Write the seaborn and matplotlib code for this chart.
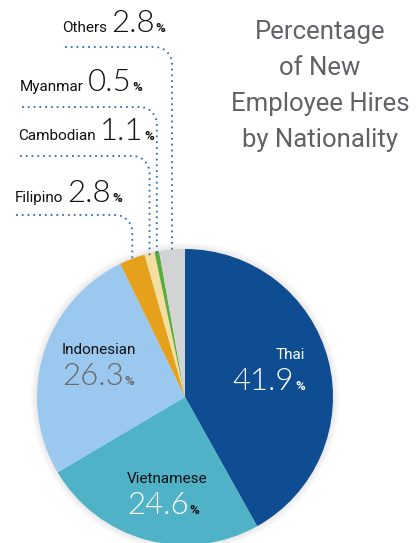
import numpy as np
import seaborn as sns
import matplotlib.pyplot as plt
from matplotlib.patches import Circle

# Data
nationalities = ['Thai', 'Vietnamese', 'Indonesian', 'Filipino', 'Cambodian', 'Myanmar', 'Others']
shares = [41.9, 24.6, 26.3, 2.8, 1.1, 0.5, 2.8]
colors = ['#0f4d92', '#4fb2c7', '#9ac8ee', '#e5a11c', '#f4dfa1', '#5aac3d', '#d2d3d5']

sns.set_theme(style='white')
LABEL_FONT = ['Roboto', 'DejaVu Sans']
NUM_FONT = ['Lato', 'DejaVu Sans']

W, H = 419, 543
fig = plt.figure(figsize=(W / 100, H / 100), dpi=100)
ax = fig.add_axes([0, 0, 1, 1])

cx, cy, R = 185, H - 397, 148

# soft shadow round the pie
for i in range(7):
    ax.add_patch(Circle((cx, cy), R + 1 + i, color='#000000', alpha=0.013, lw=0, zorder=0))

wedges, _ = ax.pie(shares, colors=sns.color_palette(colors), startangle=90, counterclock=False,
                   center=(cx, cy), radius=R, wedgeprops=dict(linewidth=0))
for w in wedges:
    w.set_zorder(2)

ax.set_xlim(0, W)
ax.set_ylim(0, H)
ax.set_aspect('equal')
ax.axis('off')

renderer = fig.canvas.get_renderer()

LBL, NUM, PCT = 11, 22.5, 9.5
lbl_kw = dict(fontsize=LBL, family=LABEL_FONT, va='baseline')
num_kw = dict(fontsize=NUM, family=NUM_FONT, weight=300, va='baseline')
pct_kw = dict(fontsize=PCT, family=LABEL_FONT, weight='bold', va='baseline')


def put_value(x, y, label, value, label_color, num_color, pct_color, inline=True, align='left', gap=4, dy=31):
    # label + big number + small percent sign, y is baseline in pixels from top
    num = f'{value:.1f}'
    if inline:
        t = ax.text(x, H - y, label, color=label_color, **lbl_kw)
        bb = t.get_window_extent(renderer)
        t2 = ax.text(bb.x1 + gap, H - y, num, color=num_color, **num_kw)
        bb2 = t2.get_window_extent(renderer)
        ax.text(bb2.x1 + 1, H - y, '%', color=pct_color, **pct_kw)
    elif align == 'left':
        ax.text(x, H - y, label, color=label_color, **lbl_kw)
        t2 = ax.text(x, H - y - dy, num, color=num_color, **num_kw)
        bb2 = t2.get_window_extent(renderer)
        ax.text(bb2.x1 + 1, H - y - dy, '%', color=pct_color, **pct_kw)
    else:
        ax.text(x, H - y, label, color=label_color, ha='right', **lbl_kw)
        t3 = ax.text(x, H - y - dy, '%', color=pct_color, ha='right', **pct_kw)
        bb3 = t3.get_window_extent(renderer)
        ax.text(bb3.x0 - 1, H - y - dy, num, color=num_color, ha='right', **num_kw)


val = dict(zip(nationalities, shares))
dark = '#111116'

# inside labels
put_value(305, 359, 'Thai', val['Thai'], 'white', 'white', 'white', inline=False, align='right')
put_value(127, 483, 'Vietnamese', val['Vietnamese'], dark, 'white', dark, inline=False)
put_value(62, 354, 'Indonesian', val['Indonesian'], dark, '#68686a', '#68686a', inline=False)

# outside labels with dotted leaders
outside = [('Others', 62, 32, 47, 65), ('Myanmar', 20, 91, 107, 22),
           ('Cambodian', 18, 140, 156, 20), ('Filipino', 15, 202, 215, 16)]
for name, lx, ly, line_y, line_x0 in outside:
    put_value(lx, ly, name, val[name], dark, dark, dark)
    w = wedges[nationalities.index(name)]
    mid = np.deg2rad((w.theta1 + w.theta2) / 2)
    vx = cx + R * np.cos(mid)
    vy_end = cy + R * np.sin(mid) - 2
    rad = 17
    arc = np.linspace(np.pi / 2, 0, 12)
    ax_x = (vx - rad) + rad * np.cos(arc)
    ax_y = (H - line_y - rad) + rad * np.sin(arc)
    xs = np.concatenate([[line_x0], ax_x, [vx]])
    ys = np.concatenate([[H - line_y], ax_y, [vy_end]])
    ax.plot(xs, ys, color='#2f6db5', lw=1.3, linestyle=(0, (1, 2.2)), zorder=3)

# title
ax.text(320, H - 20, 'Percentage\nof New\nEmployee Hires\nby Nationality', ha='center', va='top',
        fontsize=18.5, family=LABEL_FONT, color='#606266', linespacing=1.64)

fig.savefig('out.png', dpi=100)
